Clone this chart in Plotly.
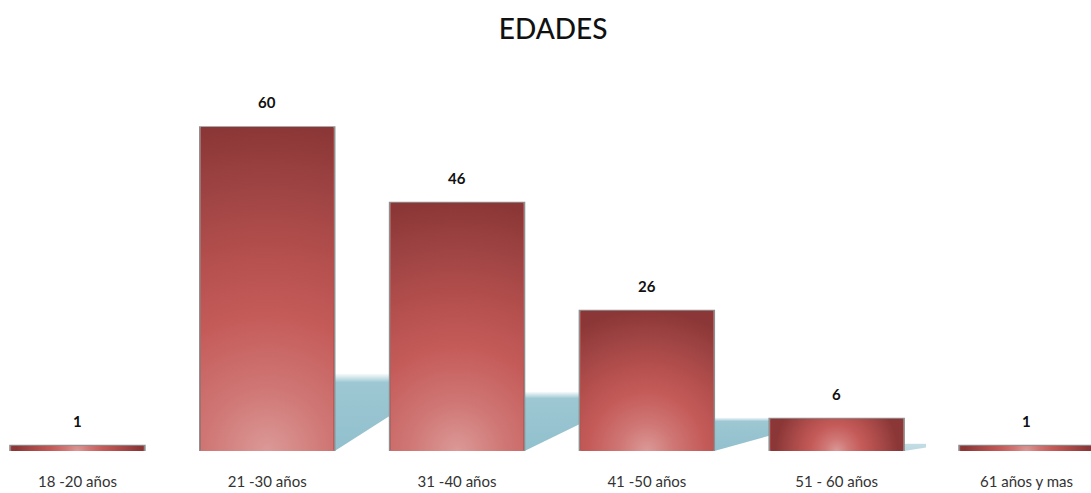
import base64
import plotly.graph_objects as go

categories = ["18 -20 años", "21 -30 años", "31 -40 años", "41 -50 años", "51 - 60 años", "61 años y mas"]
values = [1, 60, 46, 26, 6, 1]

BAR_W = 0.711
PX_PER_UNIT = 5.4   # approx. plot pixels per value unit (style only)
BAR_PX = 135        # approx. bar width in pixels (style only)
positions = list(range(len(categories)))


def svg_uri(svg):
    return "data:image/svg+xml;base64," + base64.b64encode(svg.encode("utf-8")).decode("ascii")


def bar_gradient(v):
    w = BAR_PX
    h = max(v * PX_PER_UNIT, 1.0)
    r = max(h, 62.0)
    return svg_uri(
        f'<svg xmlns="http://www.w3.org/2000/svg" viewBox="0 0 {w} {h:.2f}" preserveAspectRatio="none" '
        f'width="{w}" height="{h:.2f}">'
        f'<defs><radialGradient id="g" gradientUnits="userSpaceOnUse" cx="{w/2}" cy="{h:.2f}" r="{r:.2f}">'
        '<stop offset="0" stop-color="#DB9997"/>'
        '<stop offset="0.2" stop-color="#CF7674"/>'
        '<stop offset="0.42" stop-color="#C45B59"/>'
        '<stop offset="0.62" stop-color="#B34F4D"/>'
        '<stop offset="0.82" stop-color="#9E4343"/>'
        '<stop offset="1" stop-color="#8C3737"/>'
        '</radialGradient></defs>'
        f'<rect x="0" y="0" width="{w}" height="{h:.2f}" fill="url(#g)"/></svg>'
    )


shadow_svg = svg_uri(
    '<svg xmlns="http://www.w3.org/2000/svg" viewBox="0 0 100 100" preserveAspectRatio="none" width="100" height="100">'
    '<defs><linearGradient id="s" x1="0" y1="0" x2="0" y2="1">'
    '<stop offset="0" stop-color="#9CC7D3" stop-opacity="0"/>'
    '<stop offset="0.12" stop-color="#9CC7D3" stop-opacity="1"/>'
    '<stop offset="1" stop-color="#92C0CD" stop-opacity="1"/>'
    '</linearGradient></defs>'
    '<polygon points="0,100 0,0 100,0 100,55" fill="url(#s)"/></svg>'
)

fig = go.Figure()
fig.add_trace(go.Bar(
    x=positions,
    y=values,
    width=BAR_W,
    marker=dict(color="#B94D4B", line=dict(color="#8E8E8E", width=1.5)),
    hovertemplate="%{y}<extra></extra>",
))

images = []
for i, v in zip(positions, values):
    inset = 0.006
    images.append(dict(
        source=bar_gradient(v), xref="x", yref="y",
        x=i - BAR_W / 2 + inset, y=v, sizex=BAR_W - 2 * inset, sizey=v,
        xanchor="left", yanchor="top", sizing="stretch", layer="above",
    ))
    if i < len(values) - 1 and v > 2:
        images.append(dict(
            source=shadow_svg, xref="x", yref="y",
            x=i + BAR_W / 2, y=v * 0.24, sizex=(1 - BAR_W) * min(1.0, v / 15), sizey=v * 0.24,
            xanchor="left", yanchor="top", sizing="stretch", layer="below", opacity=1 if v > 10 else 0.6,
        ))

annotations = [
    dict(x=i, y=v, text=f"<b>{v}</b>", showarrow=False, yanchor="bottom", yshift=14,
         font=dict(family="Lato, Open Sans, sans-serif", size=15, color="#111111"))
    for i, v in zip(positions, values)
]

fig.update_layout(
    width=1091, height=493,
    margin=dict(l=0, r=0, t=60, b=42),
    paper_bgcolor="white", plot_bgcolor="white",
    showlegend=False,
    title=dict(text="EDADES", x=0.507, xanchor="center", y=0.94, yanchor="middle",
               font=dict(family="Lato, Open Sans, sans-serif", size=28, color="#111111", weight=500)),
    xaxis=dict(range=[-0.408, 5.34], tickmode="array", tickvals=positions, ticktext=categories,
               showgrid=False, zeroline=False, showline=False, ticks="",
               ticklabelstandoff=20,
               tickfont=dict(family="Lato, Open Sans, sans-serif", size=15, color="#333333")),
    yaxis=dict(range=[0, 72.4], visible=False, showgrid=False, zeroline=False),
    images=images,
    annotations=annotations,
)

fig.write_html("out.html", config={"displayModeBar": False},
               post_script="document.body.style.margin='0';document.body.style.padding='0';")
